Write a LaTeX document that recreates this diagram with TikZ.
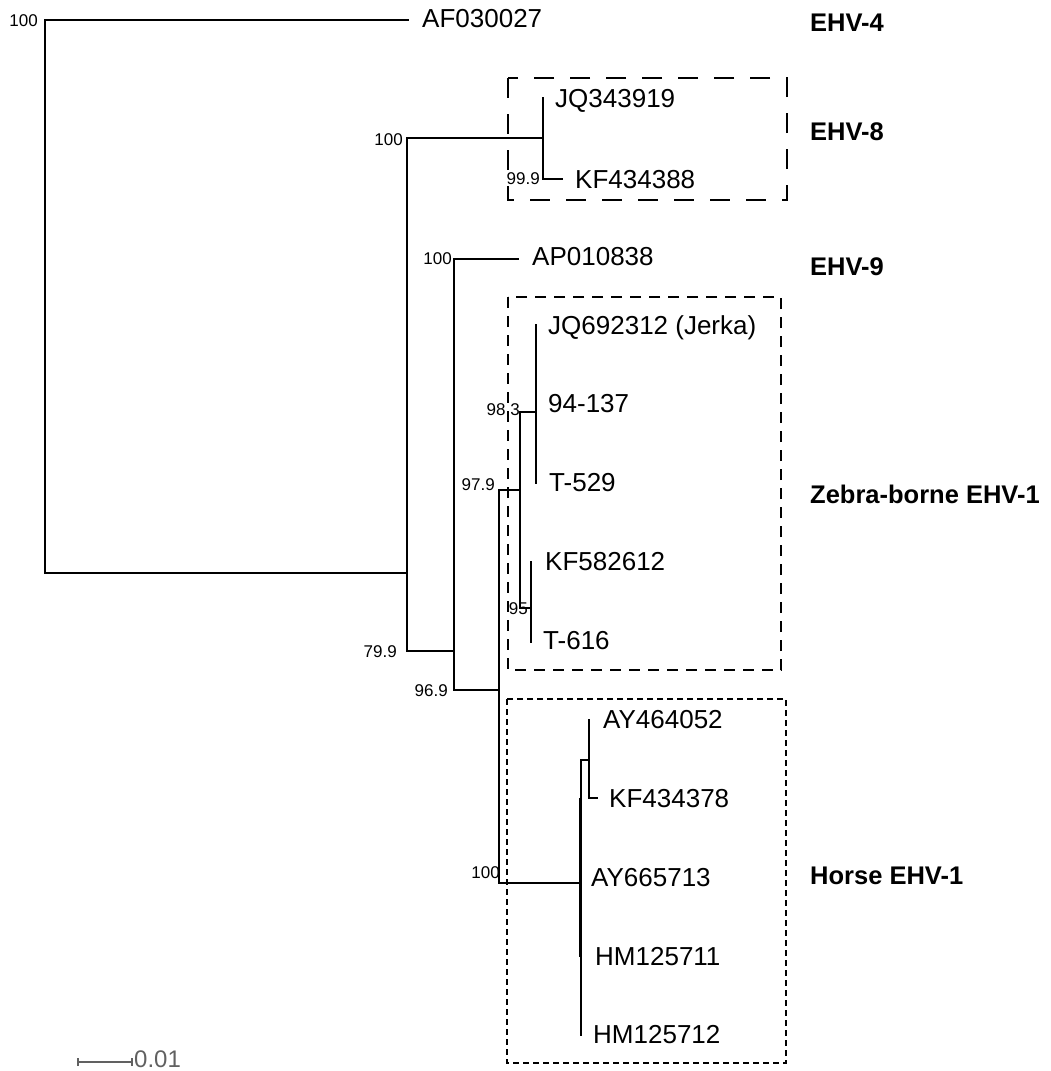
\documentclass[tikz,border=0pt]{standalone}
\usepackage{fontspec}
\setmainfont{Liberation Sans}
\begin{document}
\begin{tikzpicture}[x=1pt,y=-1pt,
  br/.style={line width=1.2pt,line cap=rect},
  leaf/.style={anchor=west,inner sep=0pt,font=\fontsize{26}{30}\selectfont,text height=18.6pt,text depth=0pt},
  clade/.style={anchor=west,inner sep=0pt,font=\fontsize{25.5}{30}\selectfont\bfseries,text height=18.3pt,text depth=0pt},
  boot/.style={anchor=east,inner sep=0pt,font=\fontsize{17}{20}\selectfont,text height=12.2pt,text depth=0pt},
  boxlong/.style={line width=1.5pt,dash pattern=on 20pt off 16pt},
  boxmed/.style={line width=1.3pt,dash pattern=on 11pt off 8pt},
  boxshort/.style={line width=1.3pt,dash pattern=on 6pt off 4pt},
  scalecol/.style={black!62}]
\useasboundingbox (0,0) rectangle (1051,1071);
% internal nodes
\coordinate (root) at (45,296);
\coordinate (nA) at (407,573);
\coordinate (n8) at (543,138);
\coordinate (nB) at (454,651);
\coordinate (nC) at (499,690);
\coordinate (nD) at (520,490);
\coordinate (nD1) at (536,412);
\coordinate (nD2) at (531,608);
\coordinate (nH) at (581,883);
\coordinate (nH1) at (589,760);
% tips
\coordinate (tAF) at (408,20);
\coordinate (tJQ34) at (543,98);
\coordinate (tKF43) at (562,179);
\coordinate (tAP) at (518,259);
\coordinate (tJQ69) at (536,325);
\coordinate (t94) at (536,403);
\coordinate (tT529) at (536,483);
\coordinate (tKF58) at (531,562);
\coordinate (tT616) at (531,642);
\coordinate (tAY46) at (589,720);
\coordinate (tKF37) at (597,798);
\coordinate (tAY66) at (581,877);
\coordinate (tHM11) at (580.5,957);
\coordinate (tHM12) at (581,1035);
\coordinate (thickTop) at (580.5,798);
% branches
\draw[br] (root) |- (tAF);
\draw[br] (root) |- (nA);
\draw[br] (nA) |- (n8);
\draw[br] (nA) |- (nB);
\draw[br] (n8) |- (tJQ34);
\draw[br] (n8) |- (tKF43);
\draw[br] (nB) |- (tAP);
\draw[br] (nB) |- (nC);
\draw[br] (nC) |- (nD);
\draw[br] (nC) |- (nH);
\draw[br] (nD) |- (nD1);
\draw[br] (nD) |- (nD2);
\draw[br] (nD1) |- (tJQ69);
\draw[br] (nD1) |- (tT529);
\draw[br] (nD2) |- (tKF58);
\draw[br] (nD2) |- (tT616);
\draw[br] (nH) |- (nH1);
\draw[br] (nH) |- (tHM12);
\draw[br] (nH1) |- (tAY46);
\draw[br] (nH1) |- (tKF37);
\draw[line width=3pt] (thickTop) -- (tHM11);
% leaf labels
\node[leaf] (lAF) at (422,18) {AF030027};
\node[leaf] (lJQ34) at (555,98) {JQ343919};
\node[leaf] (lKF43) at (575,179) {KF434388};
\node[leaf] (lAP) at (532,256) {AP010838};
\node[leaf] (lJQ69) at (548,325) {JQ692312 (Jerka)};
\node[leaf] (l94) at (548,403) {94-137};
\node[leaf] (lT529) at (549,482) {T-529};
\node[leaf] (lKF58) at (545,561) {KF582612};
\node[leaf] (lT616) at (543,640) {T-616};
\node[leaf] (lAY46) at (603,719) {AY464052};
\node[leaf] (lKF37) at (609,798) {KF434378};
\node[leaf] (lAY66) at (591,877) {AY665713};
\node[leaf] (lHM11) at (595,956) {HM125711};
\node[leaf] (lHM12) at (593,1034) {HM125712};
% bootstrap values
\node[boot] (b1) at (38,20) {100};
\node[boot] (b2) at (403,139) {100};
\node[boot] (b3) at (540,178) {99.9};
\node[boot] (b4) at (452,258) {100};
\node[boot] (b5) at (520,409) {98.3};
\node[boot] (b6) at (495,484) {97.9};
\node[boot] (b7) at (528,608) {95};
\node[boot] (b8) at (397,651) {79.9};
\node[boot] (b9) at (448,690) {96.9};
\node[boot] (b10) at (500,872) {100};
% clade boxes
\draw[boxlong] (508,78) rectangle (787,200);
\draw[boxmed] (508,297) rectangle (781,670);
\draw[boxshort] (507,699) rectangle (786,1063);
% clade labels
\node[clade] (cE4) at (810,22) {EHV-4};
\node[clade] (cE8) at (810,131) {EHV-8};
\node[clade] (cE9) at (810,266) {EHV-9};
\node[clade] (cZ) at (810,494) {Zebra-borne EHV-1};
\node[clade] (cH) at (810,875) {Horse EHV-1};
% scale bar
\coordinate (sL) at (78,1062);
\coordinate (sR) at (132,1062);
\draw[scalecol,line width=1.2pt] (sL) -- (sR);
\draw[scalecol,line width=1.2pt] ([yshift=-4]sL) -- ([yshift=4]sL);
\draw[scalecol,line width=1.2pt] ([yshift=-4]sR) -- ([yshift=4]sR);
\node[anchor=west,inner sep=0pt,font=\fontsize{24}{28}\selectfont,text height=17.2pt,text depth=0pt,text=black!62] (scl) at (134,1059) {0.01};
\end{tikzpicture}
\end{document}
